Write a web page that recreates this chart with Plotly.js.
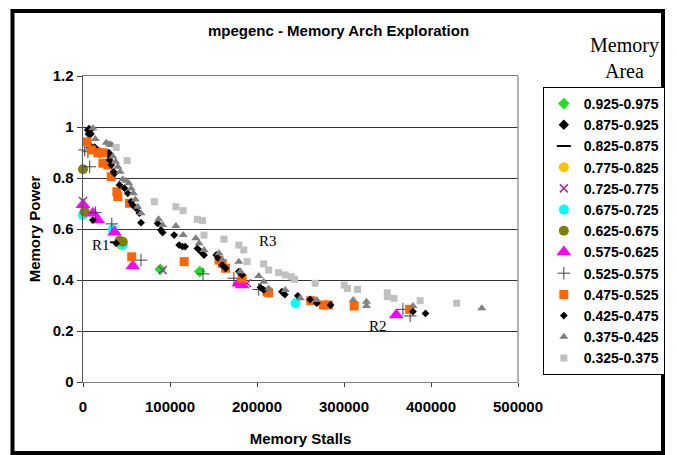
<!DOCTYPE html>
<html>
<head>
<meta charset="utf-8">
<script src="https://cdn.plot.ly/plotly-3.0.1.min.js"></script>
<style>html,body{margin:0;padding:0;background:#fff;}#chart{width:677px;height:455px;}</style>
</head>
<body>
<div id="chart"></div>
<script>
// Memory area ranges (legend labels)
var seriesNames = ["0.925-0.975","0.875-0.925","0.825-0.875","0.775-0.825","0.725-0.775","0.675-0.725","0.625-0.675","0.575-0.625","0.525-0.575","0.475-0.525","0.425-0.475","0.375-0.425","0.325-0.375"];

// Memory Stalls (x) and Memory Power (y) per series
var s0925x = [88800, 134200];
var s0925y = [0.442, 0.433];

var s0875x = [6900, 7700, 8800, 13400, 19000, 29700];
var s0875y = [0.988, 0.973, 0.920, 0.916, 0.899, 0.894];

var s0825x = [39000];
var s0825y = [0.548];

var s0775x = [43900];
var s0775y = [0.537];

var s0725x = [0, 91500, 188600];
var s0725y = [0.710, 0.439, 0.387];

var s0675x = [0, 34300, 45700, 244300];
var s0675y = [0.655, 0.599, 0.537, 0.309];

var s0625x = [0, 1900, 41900, 45700];
var s0625y = [0.834, 0.668, 0.554, 0.550];

var s0575x = [0, 11400, 17100, 36200, 57200, 179100, 182900, 360100];
var s0575y = [0.695, 0.662, 0.635, 0.587, 0.455, 0.387, 0.380, 0.263];

var s0525x = [1900, 5700, 7700, 14500, 33100, 66700, 138000, 173400, 202000, 367700, 376100];
var s0525y = [0.910, 0.903, 0.844, 0.664, 0.620, 0.478, 0.424, 0.407, 0.363, 0.285, 0.259];

var s0475x = [4600, 9600, 17100, 22900, 22900, 28600, 32500, 38900, 40000, 53400, 56000, 116300, 156300, 160000, 163900, 182900, 211500, 213400, 261800, 276300, 282000, 311700, 375400];
var s0475y = [0.942, 0.910, 0.899, 0.899, 0.858, 0.851, 0.805, 0.746, 0.727, 0.701, 0.491, 0.472, 0.478, 0.465, 0.446, 0.407, 0.354, 0.350, 0.319, 0.302, 0.302, 0.298, 0.285];

var s0425x = [30500, 32500, 35100, 36200, 41900, 47600, 51400, 55300, 57200, 61000, 64800, 66700, 11400, 38200, 85800, 89600, 91500, 104800, 110500, 114300, 117400, 131500, 135300, 139100, 153200, 155400, 160000, 163900, 179100, 182900, 203900, 207700, 228600, 232000, 246900, 261100, 268700, 284600, 379200, 393700];
var s0425y = [0.871, 0.851, 0.825, 0.818, 0.773, 0.760, 0.740, 0.707, 0.694, 0.681, 0.662, 0.625, 0.635, 0.544, 0.622, 0.596, 0.586, 0.576, 0.537, 0.531, 0.531, 0.524, 0.511, 0.498, 0.498, 0.485, 0.459, 0.446, 0.433, 0.420, 0.371, 0.361, 0.354, 0.343, 0.338, 0.324, 0.309, 0.302, 0.276, 0.269];

var s0375x = [11400, 14200, 26700, 30500, 33100, 34300, 37400, 40000, 42700, 45700, 49600, 52600, 55300, 57900, 60200, 62900, 66700, 86900, 91500, 106800, 115100, 129600, 133400, 139100, 156300, 160000, 179100, 181000, 202000, 207700, 213400, 232500, 249700, 268700, 310600, 325800, 325800, 379200, 458400];
var s0375y = [0.995, 0.953, 0.938, 0.932, 0.929, 0.884, 0.864, 0.844, 0.825, 0.795, 0.789, 0.779, 0.759, 0.740, 0.716, 0.687, 0.662, 0.638, 0.616, 0.612, 0.576, 0.564, 0.544, 0.518, 0.505, 0.478, 0.472, 0.433, 0.416, 0.393, 0.367, 0.361, 0.328, 0.322, 0.322, 0.315, 0.298, 0.298, 0.289];

var s0325x = [38200, 50700, 82000, 106800, 115100, 131500, 137200, 139100, 162000, 179100, 184800, 188600, 207700, 213400, 224800, 232500, 239400, 243100, 266800, 300300, 304000, 315500, 349800, 349800, 357500, 387500, 429500];
var s0325y = [0.920, 0.868, 0.707, 0.687, 0.672, 0.638, 0.633, 0.576, 0.560, 0.537, 0.518, 0.472, 0.463, 0.439, 0.429, 0.420, 0.413, 0.403, 0.387, 0.380, 0.367, 0.363, 0.350, 0.335, 0.328, 0.319, 0.309];

var xTickVals = [0, 100000, 200000, 300000, 400000, 500000];
var xTickText = ["0", "100000", "200000", "300000", "400000", "500000"];
var yTickVals = [0, 0.2, 0.4, 0.6, 0.8, 1.0, 1.2];
var yTickText = ["0", "0.2", "0.4", "0.6", "0.8", "1", "1.2"];

var allX = [s0925x, s0875x, s0825x, s0775x, s0725x, s0675x, s0625x, s0575x, s0525x, s0475x, s0425x, s0375x, s0325x];
var allY = [s0925y, s0875y, s0825y, s0775y, s0725y, s0675y, s0625y, s0575y, s0525y, s0475y, s0425y, s0375y, s0325y];

var markerStyles = [
  {symbol: "diamond", size: 9, color: "#22DD22"},
  {symbol: "diamond", size: 8, color: "#000000"},
  {symbol: "line-ew-open", size: 10, color: "#000000", line: {color: "#000000", width: 2}},
  {symbol: "circle", size: 10, color: "#FFC000"},
  {symbol: "x-thin-open", size: 8, color: "#993399", line: {color: "#993399", width: 1.5}},
  {symbol: "circle", size: 10, color: "#00FFFF"},
  {symbol: "circle", size: 10, color: "#808000"},
  {symbol: "triangle-up", size: 13, color: "#FF00FF"},
  {symbol: "cross-thin-open", size: 9, color: "#404040", line: {color: "#404040", width: 1}},
  {symbol: "square", size: 9, color: "#FF6600"},
  {symbol: "diamond", size: 6, color: "#000000"},
  {symbol: "triangle-up", size: 8, color: "#808080"},
  {symbol: "square", size: 7, color: "#C0C0C0"}
];

var traces = seriesNames.map(function(name, i) {
  return {
    type: "scatter", mode: "markers", name: name,
    x: allX[i], y: allY[i], cliponaxis: false,
    marker: markerStyles[i]
  };
});

var font = "Liberation Sans, Arial, sans-serif";
var serif = "Liberation Serif, Times New Roman, serif";

var layout = {
  width: 677, height: 455,
  margin: {l: 83, r: 156, t: 76, b: 73, pad: 0},
  paper_bgcolor: "#ffffff", plot_bgcolor: "#ffffff",
  title: {text: "mpegenc - Memory Arch Exploration", xref: "container", x: 0.5, xanchor: "center",
          yref: "container", y: 0.932, yanchor: "middle",
          font: {family: font, size: 15, weight: "bold", color: "#000"}},
  xaxis: {
    range: [0, 500000], tickvals: xTickVals, ticktext: xTickText,
    showgrid: false, zeroline: false, ticks: "outside", ticklen: 4, tickcolor: "#404040",
    showline: true, linecolor: "#808080", linewidth: 1, mirror: true,
    ticklabelstandoff: 7,
    tickfont: {family: font, size: 15, weight: "bold", color: "#000"},
    title: {text: "Memory Stalls", standoff: 19, font: {family: font, size: 15, weight: "bold", color: "#000"}}
  },
  yaxis: {
    range: [0, 1.2], tickvals: yTickVals, ticktext: yTickText,
    showgrid: true, gridcolor: "#333333", gridwidth: 1, zeroline: false,
    ticks: "outside", ticklen: 5, tickcolor: "#404040",
    showline: true, linecolor: "#555555", linewidth: 1.5, mirror: false,
    tickfont: {family: font, size: 15, weight: "bold", color: "#000"},
    title: {text: "Memory Power", standoff: 8, font: {family: font, size: 15, weight: "bold", color: "#000"}}
  },
  legend: {
    x: (546 - 83) / 438, y: (382 - 87) / 306, xanchor: "left", yanchor: "top",
    xref: "paper", yref: "paper",
    bgcolor: "#ffffff", bordercolor: "#000000", borderwidth: 1,
    font: {family: font, size: 14, weight: "bold", color: "#000"},
    tracegroupgap: 0
  },
  showlegend: true,
  annotations: [
    {text: "Memory<br>Area", xref: "paper", yref: "paper", x: (628 - 83) / 438, y: (382 - 58) / 306,
     xanchor: "center", yanchor: "middle", showarrow: false, align: "center",
     font: {family: serif, size: 20, color: "#000"}},
    {text: "R1", xref: "x", yref: "y", x: 20200, y: 0.537, showarrow: false, font: {family: serif, size: 15, color: "#000"}},
    {text: "R3", xref: "x", yref: "y", x: 212300, y: 0.553, showarrow: false, font: {family: serif, size: 15, color: "#000"}},
    {text: "R2", xref: "x", yref: "y", x: 339000, y: 0.220, showarrow: false, font: {family: serif, size: 15, color: "#000"}}
  ],
  shapes: [
    {type: "line", xref: "paper", yref: "paper", x0: 1, x1: 1, y0: 0, y1: 1, line: {color: "#999999", width: 1.5}},
    {type: "rect", xref: "paper", yref: "paper",
     x0: (12 - 83) / 438, x1: (667 - 83) / 438, y0: (382 - 453) / 306, y1: (382 - 11) / 306,
     line: {color: "#000000", width: 4}, fillcolor: "rgba(0,0,0,0)"}
  ]
};

Plotly.newPlot("chart", traces, layout, {displayModeBar: false, staticPlot: true});
</script>
</body>
</html>
